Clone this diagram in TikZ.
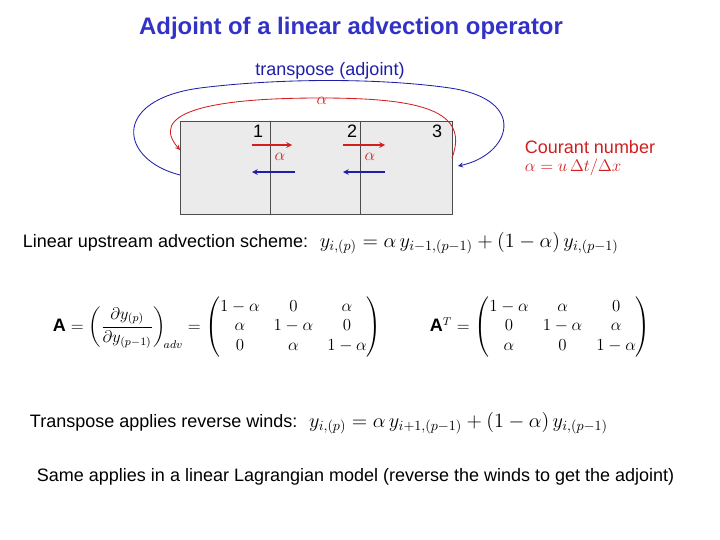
\documentclass[tikz,border=0pt]{standalone}
\usepackage{amsmath}
\usepackage{fontspec}
\setmainfont{Liberation Sans}
\usetikzlibrary{positioning}
\definecolor{ttlblue}{RGB}{50,50,200}
\definecolor{advred}{RGB}{210,30,30}
\definecolor{advblue}{RGB}{30,30,170}
\tikzset{
  cell/.style={draw=black!70, fill=black!8, minimum height=93*0.025cm, inner sep=0pt},
  body/.style={anchor=west, font=\fontsize{12.8}{15}\selectfont},
  num/.style={font=\fontsize{12.8}{15}\selectfont},
  flow/.style={->, >=stealth, thick}
}
\begin{document}
\begin{tikzpicture}[x=0.025cm, y=-0.025cm]
	\useasboundingbox (0,0) rectangle (720,539);
	\node[text=ttlblue, font=\bfseries\fontsize{17}{20}\selectfont] (title) at (351,28) {Adjoint of a linear advection operator};
	% grid cells
	\node[cell, minimum width=90*0.025cm] (c1) at (225,168) {};
	\node[cell, minimum width=90*0.025cm] (c2) at (315,168) {};
	\node[cell, minimum width=92*0.025cm] (c3) at (406,168) {};
	\node[num] (n1) at (258,131) {1};
	\node[num] (n2) at (352,131) {2};
	\node[num] (n3) at (437,131) {3};
	% flux arrows
	\coordinate (r1a) at (252,145); \coordinate (r1b) at (292,145);
	\coordinate (r2a) at (343,145); \coordinate (r2b) at (385,145);
	\coordinate (b1a) at (295,172); \coordinate (b1b) at (252,172);
	\coordinate (b2a) at (385,172); \coordinate (b2b) at (343,172);
	\draw[flow, advred] (r1a) -- (r1b);
	\draw[flow, advred] (r2a) -- (r2b);
	\draw[flow, advblue] (b1a) -- (b1b);
	\draw[flow, advblue] (b2a) -- (b2b);
	\node[text=advred, num] (al1) at (280,157) {$\alpha$};
	\node[text=advred, num] (al2) at (370,157) {$\alpha$};
	% periodic arcs
	\coordinate (rs) at (452,158); \coordinate (re) at (180,150);
	\coordinate (bs) at (180,175); \coordinate (be) at (458,166);
	\draw[flow, advred, semithick] (rs) .. controls (470,110) and (420,98) .. (320,98) .. controls (200,98) and (150,115) .. (re);
	\draw[flow, advblue, semithick] (bs) .. controls (120,160) and (110,100) .. (200,88) .. controls (280,78) and (380,78) .. (450,88) .. controls (530,100) and (510,155) .. (be);
	\node[text=advblue, num] (tr) at (330,71) {transpose (adjoint)};
	\node[text=advred, num] (al0) at (322,101) {$\alpha$};
	\node[text=advred, body] (cn) at (520,147) {Courant number};
	\node[text=advred, body] (cf) at (520,167) {$\alpha = u\,\Delta t/\Delta x$};
	% equations
	\node[body] (l1) at (18,243) {Linear upstream advection scheme: \ {\Large $y_{i,(p)} = \alpha\, y_{i-1,(p-1)} + (1-\alpha)\, y_{i,(p-1)}$}};
	\node[body] (mA) at (48,327) {\textbf{A} {\large $= \left(\dfrac{\partial y_{(p)}}{\partial y_{(p-1)}}\right)_{\!adv} = \begin{pmatrix} 1-\alpha & 0 & \alpha\\ \alpha & 1-\alpha & 0\\ 0 & \alpha & 1-\alpha \end{pmatrix}$}};
	\node[body] (mT) at (425,327) {\textbf{A}{\large $^T = \begin{pmatrix} 1-\alpha & \alpha & 0\\ 0 & 1-\alpha & \alpha\\ \alpha & 0 & 1-\alpha \end{pmatrix}$}};
	\node[body] (l2) at (25,423) {Transpose applies reverse winds: \ {\Large $y_{i,(p)} = \alpha\, y_{i+1,(p-1)} + (1-\alpha)\, y_{i,(p-1)}$}};
	\node[body] (l3) at (32,477) {Same applies in a linear Lagrangian model (reverse the winds to get the adjoint)};
\end{tikzpicture}
\end{document}
